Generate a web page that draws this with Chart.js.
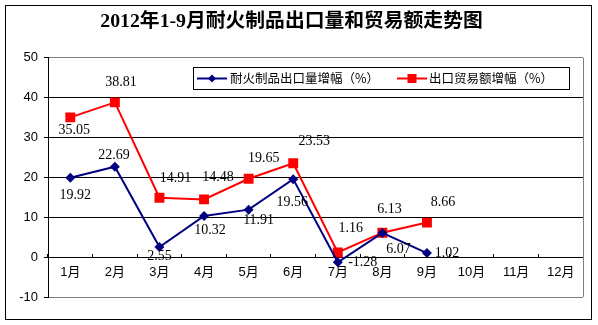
<!DOCTYPE html>
<html>
<head>
<meta charset="utf-8">
<script src="https://cdn.jsdelivr.net/npm/chart.js@4/dist/chart.umd.min.js"></script>
<style>
  html, body { margin: 0; padding: 0; background: #fff; }
  #wrap { width: 598px; height: 325px; }
</style>
</head>
<body>
<div id="wrap"><canvas id="chart" width="598" height="325"></canvas></div>
<script>
// ===== Datos =====
const meses = ['1月', '2月', '3月', '4月', '5月', '6月', '7月', '8月', '9月', '10月', '11月', '12月'];
const cantidad = [19.92, 22.69, 2.55, 10.32, 11.91, 19.56, -1.28, 6.07, 1.02];
const comercio = [35.05, 38.81, 14.91, 14.48, 19.65, 23.53, 1.16, 6.13, 8.66];
const etiquetaCantidad = '耐火制品出口量增幅（%）';
const etiquetaComercio = '出口贸易额增幅（%）';
const tituloTexto = '2012年1-9月耐火制品出口量和贸易额走势图';
const ejeY = { min: -10, max: 50, paso: 10 };

const AZUL = '#000080';
const ROJO = '#ff0000';

// desplazamiento de cada etiqueta respecto a su punto (px)
const despCantidad = [[5, 18], [-1, -11], [0, 9], [6, 14], [10, 11], [-1, 23], [25, 0], [16, 16], [20, 0]];
const despComercio = [[4, 13], [6, -20], [16, -19], [14, -22], [15, -20], [21, -22], [13, -24], [7, -23], [16, -20]];

// ===== Marco, borde del área y leyenda =====
const marcoPlugin = {
    id: 'marco',
    beforeDraw(chart) {
        const c = chart.ctx;
        c.save();
        c.fillStyle = '#fff';
        c.fillRect(0, 0, chart.width, chart.height);
        c.restore();
    },
    beforeDatasetsDraw(chart) {
        const { ctx: c, chartArea: a } = chart;
        c.save();
        c.strokeStyle = '#808080';
        c.lineWidth = 1;
        c.beginPath();
        c.moveTo(Math.round(a.right) + 0.5, a.top);
        c.lineTo(Math.round(a.right) + 0.5, a.bottom);
        c.stroke();
        c.restore();
    },
    afterDraw(chart) {
        const c = chart.ctx;
        c.save();
        c.strokeStyle = '#000';
        c.lineWidth = 1;
        c.strokeRect(5.5, 5.5, 586, 314);
        c.restore();
    }
};

const leyendaPlugin = {
    id: 'leyenda',
    afterDraw(chart) {
        const c = chart.ctx;
        const ds = chart.data.datasets;
        c.save();
        c.fillStyle = '#fff';
        c.fillRect(193, 67, 376, 22);
        c.strokeStyle = '#000';
        c.lineWidth = 1;
        c.strokeRect(193.5, 67.5, 376, 22);

        const items = [
            { x0: 197, x1: 227, tx: 230, d: ds[0] },
            { x0: 397, x1: 427, tx: 429, d: ds[1] }
        ];
        const y = 78.5;
        items.forEach(it => {
            c.strokeStyle = it.d.borderColor;
            c.lineWidth = 2;
            c.beginPath();
            c.moveTo(it.x0, y);
            c.lineTo(it.x1, y);
            c.stroke();
            const cx = (it.x0 + it.x1) / 2;
            c.fillStyle = it.d.borderColor;
            c.beginPath();
            if (it.d.pointStyle === 'rect') {
                c.rect(cx - 4.5, y - 4.5, 9, 9);
            } else {
                c.moveTo(cx, y - 4); c.lineTo(cx + 4, y); c.lineTo(cx, y + 4); c.lineTo(cx - 4, y);
                c.closePath();
            }
            c.fill();
            c.fillStyle = '#000';
            c.font = '12.5px "Noto Sans CJK SC", sans-serif';
            c.textBaseline = 'middle';
            c.textAlign = 'left';
            c.fillText(it.d.label, it.tx, y);
        });
        c.restore();
    }
};

const valoresPlugin = {
    id: 'valores',
    afterDatasetsDraw(chart) {
        const c = chart.ctx;
        const desp = [despCantidad, despComercio];
        c.save();
        c.font = '14px "Liberation Serif", "Times New Roman", serif';
        c.fillStyle = '#000';
        c.textAlign = 'center';
        c.textBaseline = 'middle';
        chart.data.datasets.forEach((ds, i) => {
            const meta = chart.getDatasetMeta(i);
            meta.data.forEach((pt, j) => {
                const [dx, dy] = desp[i][j];
                c.fillText(ds.data[j].toFixed(2), pt.x + dx, pt.y + dy);
            });
        });
        c.restore();
    }
};

new Chart(document.getElementById('chart'), {
    type: 'line',
    data: {
        labels: meses,
        datasets: [
            {
                label: etiquetaCantidad,
                data: cantidad,
                borderColor: AZUL,
                backgroundColor: AZUL,
                borderWidth: 2,
                pointStyle: 'rectRot',
                pointRadius: 5,
                pointHoverRadius: 5,
                pointBorderWidth: 0,
                pointBackgroundColor: AZUL,
                tension: 0
            },
            {
                label: etiquetaComercio,
                data: comercio,
                borderColor: ROJO,
                backgroundColor: ROJO,
                borderWidth: 2,
                pointStyle: 'rect',
                pointRadius: 7,
                pointHoverRadius: 7,
                pointBorderWidth: 0,
                pointBackgroundColor: ROJO,
                tension: 0
            }
        ]
    },
    options: {
        responsive: false,
        animation: false,
        devicePixelRatio: 1,
        layout: { padding: { left: 0, right: 15, top: 0, bottom: 28 } },
        plugins: {
            legend: { display: false },
            tooltip: { enabled: false },
            title: {
                display: true,
                text: tituloTexto,
                color: '#000',
                font: { family: '"Liberation Serif", "Noto Sans CJK SC", serif', size: 19.8, weight: 'bold', lineHeight: 1.15 },
                padding: { top: 11, bottom: 24 }
            }
        },
        scales: {
            x: {
                type: 'category',
                position: { y: 0 },
                offset: true,
                grid: {
                    offset: true,
                    drawOnChartArea: false,
                    drawTicks: true,
                    tickLength: -4,
                    tickColor: '#000'
                },
                border: { display: true, color: '#000', width: 1 },
                ticks: {
                    color: '#000',
                    padding: 11,
                    maxRotation: 0,
                    autoSkip: false,
                    font: { family: '"Liberation Sans", "Noto Sans CJK SC", sans-serif', size: 13 }
                }
            },
            y: {
                min: ejeY.min,
                max: ejeY.max,
                afterFit(scale) { scale.width = 48; },
                grid: {
                    color: ctx => (ctx.tick && (ctx.tick.value === ejeY.max || ctx.tick.value === ejeY.min)) ? '#808080' : '#000',
                    tickColor: '#000',
                    tickLength: 4
                },
                border: { display: true, color: '#000', width: 1 },
                ticks: {
                    stepSize: ejeY.paso,
                    color: '#000',
                    padding: 6,
                    font: { family: '"Liberation Sans", sans-serif', size: 13 }
                }
            }
        }
    },
    plugins: [marcoPlugin, valoresPlugin, leyendaPlugin]
});
</script>
</body>
</html>
